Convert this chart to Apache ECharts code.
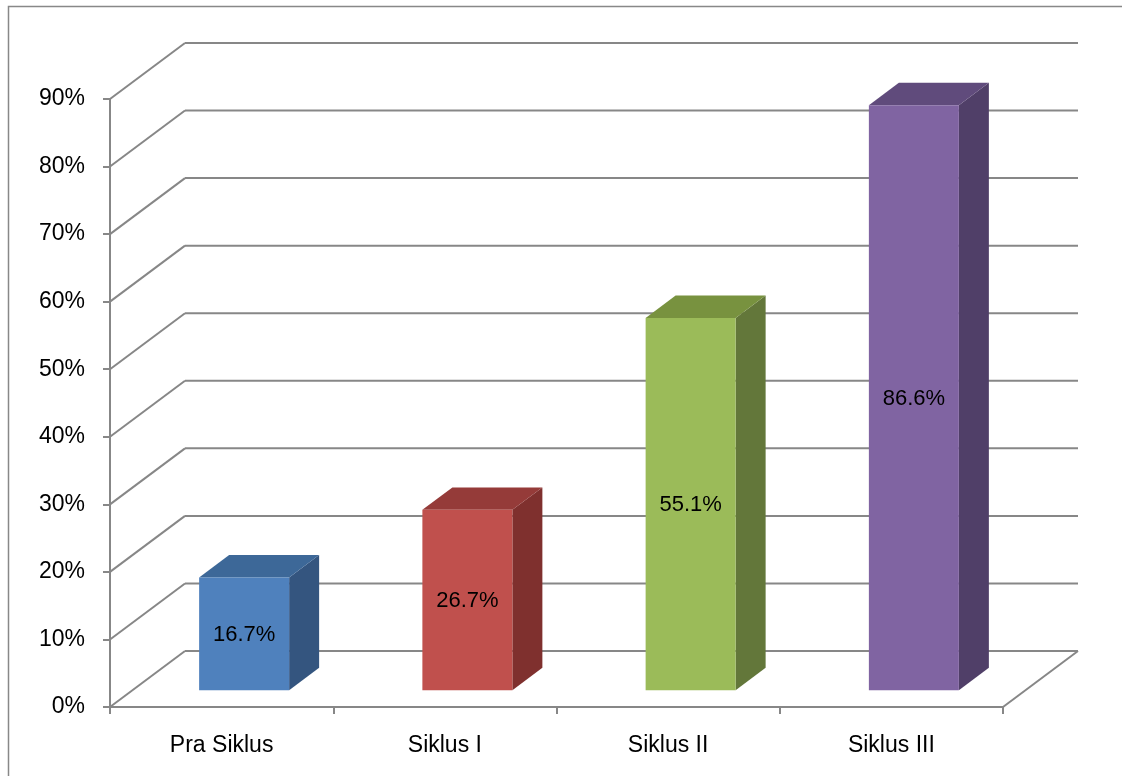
<!DOCTYPE html>
<html>
<head>
<meta charset="utf-8">
<script src="https://cdn.jsdelivr.net/npm/echarts@6/dist/echarts.min.js"></script>
<style>html,body{margin:0;padding:0;background:#fff;}#c{width:1122px;height:776px;}</style>
</head>
<body>
<div id="c"></div>
<script>
const categories = ['Pra Siklus', 'Siklus I', 'Siklus II', 'Siklus III'];
const values = [16.7, 26.7, 55.1, 86.6];
const yTicks = [0, 10, 20, 30, 40, 50, 60, 70, 80, 90];
const frontColors = ['#4F81BD', '#C0504D', '#9BBB59', '#8064A2'];
const sideColors = ['#34557F', '#7F302E', '#63773A', '#503F68'];
const topColors = ['#3D6898', '#953B39', '#78923F', '#604B7C'];

const DX = 75, DY = -56;          // depth of the 3D box
const FRONT = 0.3, DEPTH = 0.4;   // bar placement within depth
const BARW = 90;
const GRID = '#878787';
const FONT = 'Liberation Sans';

const chart = echarts.init(document.getElementById('c'), null, {renderer: 'canvas'});

const option = {
  animation: false,
  backgroundColor: '#fff',
  graphic: [{
    type: 'rect', z: -10, silent: true,
    shape: {x: 8.5, y: 6.5, width: 1300, height: 900},
    style: {fill: 'none', stroke: '#888', lineWidth: 1.5}
  }],
  grid: {left: 110, top: 99, width: 893, height: 608, containLabel: false},
  xAxis: {
    type: 'category',
    data: categories,
    axisLine: {show: true, lineStyle: {color: GRID, width: 2}},
    axisTick: {show: true, length: 7, lineStyle: {color: GRID, width: 2}},
    axisLabel: {color: '#000', fontFamily: FONT, fontSize: 23, margin: 27},
    splitLine: {show: false}
  },
  yAxis: {
    type: 'value', min: 0, max: 90, interval: 10,
    axisLine: {show: true, lineStyle: {color: GRID, width: 2}},
    axisTick: {show: true, length: 7, lineStyle: {color: GRID, width: 2}},
    axisLabel: {color: '#000', fontFamily: FONT, fontSize: 23, margin: 25, formatter: '{value}%'},
    splitLine: {show: false}
  },
  series: [
    {
      type: 'custom',
      name: 'walls',
      z: 1,
      silent: true,
      data: yTicks.map(v => [0, v]),
      encode: {x: 0, y: 1},
      renderItem: function (params, api) {
        const cs = params.coordSys;
        const v = api.value(1);
        const y = api.coord([0, v])[1];
        const x0 = cs.x, x1 = cs.x + cs.width;
        const children = [
          {type: 'line', shape: {x1: x0, y1: y, x2: x0 + DX, y2: y + DY},
           style: {stroke: GRID, lineWidth: 2}},
          {type: 'line', shape: {x1: x0 + DX, y1: y + DY, x2: x1 + DX, y2: y + DY},
           style: {stroke: GRID, lineWidth: 2}}
        ];
        if (v === 0) {
          children.push({type: 'line', shape: {x1: x1, y1: y, x2: x1 + DX, y2: y + DY},
            style: {stroke: GRID, lineWidth: 2}});
        }
        return {type: 'group', children: children};
      }
    },
    {
      type: 'custom',
      name: 'bars',
      z: 5,
      data: values.map((v, i) => [i, v]),
      encode: {x: 0, y: 1},
      renderItem: function (params, api) {
        const i = api.value(0);
        const v = api.value(1);
        const top = api.coord([i, v]);
        const base = api.coord([i, 0]);
        const fx = FRONT * DX, fy = FRONT * DY;
        const ddx = DEPTH * DX, ddy = DEPTH * DY;
        const l = top[0] + fx - BARW / 2, r = top[0] + fx + BARW / 2;
        const t = top[1] + fy, b = base[1] + fy;
        const idx = params.dataIndex;
        return {
          type: 'group',
          children: [
            {type: 'polygon', shape: {points: [[r, t], [r + ddx, t + ddy], [r + ddx, b + ddy], [r, b]]},
             style: {fill: sideColors[idx]}},
            {type: 'polygon', shape: {points: [[l, t], [l + ddx, t + ddy], [r + ddx, t + ddy], [r, t]]},
             style: {fill: topColors[idx]}},
            {type: 'rect', shape: {x: l, y: t, width: BARW, height: b - t},
             style: {fill: frontColors[idx]}},
            {type: 'text', x: (l + r) / 2, y: (t + b) / 2 + 1,
             style: {text: v.toFixed(1) + '%', fill: '#000', font: '22px "' + FONT + '"',
                     align: 'center', verticalAlign: 'middle'}}
          ]
        };
      }
    }
  ]
};
chart.setOption(option);
</script>
</body>
</html>
